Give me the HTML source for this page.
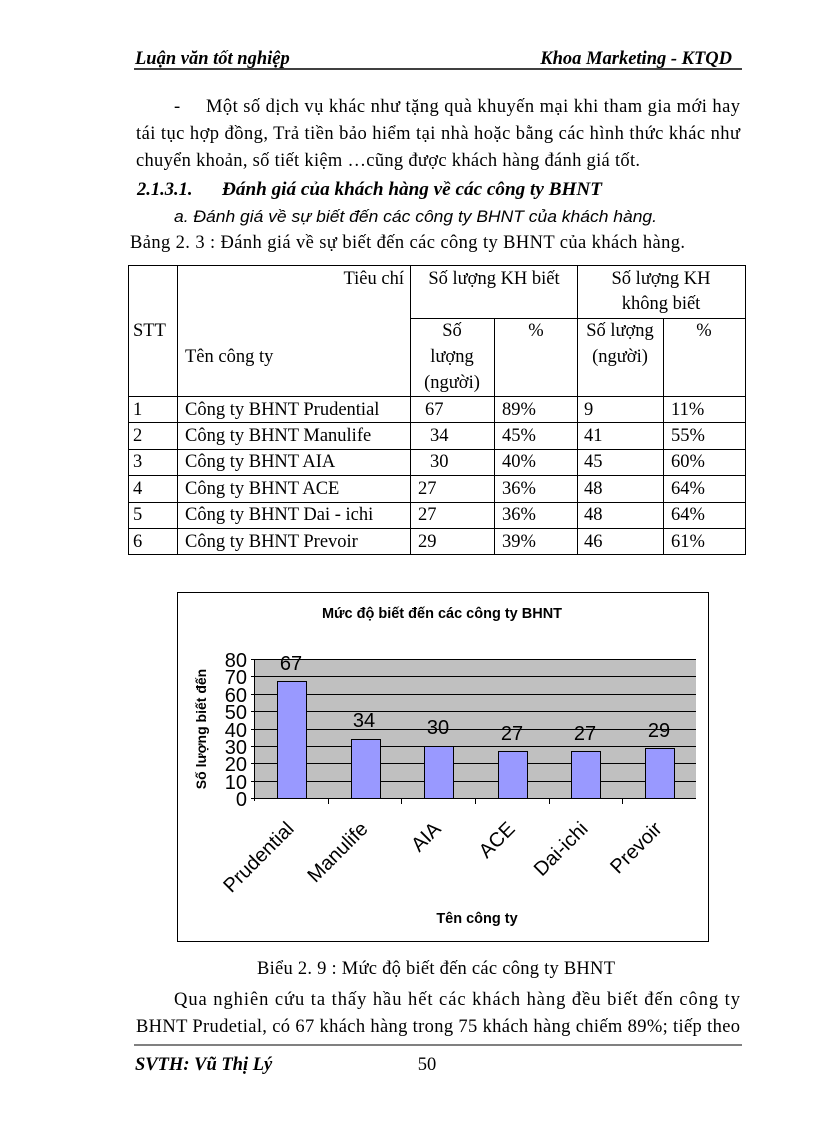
<!DOCTYPE html>
<html><head><meta charset="utf-8"><style>
html,body{margin:0;padding:0;background:#fff}
svg{display:block}
.t{font-family:"Liberation Serif",serif;font-size:18.5px;fill:#000}
.s{font-family:"Liberation Sans",sans-serif;fill:#000}
</style></head><body>
<svg width="816" height="1123" viewBox="0 0 816 1123" xmlns="http://www.w3.org/2000/svg">
<!-- header -->
<text class="t" x="135" y="64" font-size="15" font-style="italic" font-weight="bold">Luận văn tốt nghiệp</text>
<text class="t" x="732" y="64" font-size="15" font-style="italic" font-weight="bold" text-anchor="end">Khoa Marketing - KTQD</text>
<line x1="134" y1="69" x2="742" y2="69" stroke="#000" stroke-width="1.5"/>
<!-- paragraph -->
<text class="t" x="174" y="112">-</text>
<text class="t" x="206" y="112" textLength="534" lengthAdjust="spacing">Một số dịch vụ khác như tặng quà khuyến mại khi tham gia mới hay</text>
<text class="t" x="136" y="139" textLength="604" lengthAdjust="spacing">tái tục hợp đồng, Trả tiền bảo hiểm tại nhà hoặc bằng các hình thức khác như</text>
<text class="t" x="136" y="166" textLength="504" lengthAdjust="spacing">chuyển khoản, số tiết kiệm …cũng được khách hàng đánh giá tốt.</text>
<text class="t" x="137" y="195" font-weight="bold" font-style="italic">2.1.3.1.</text>
<text class="t" x="222" y="195" font-weight="bold" font-style="italic" textLength="380" lengthAdjust="spacingAndGlyphs">Đánh giá của khách hàng về các công ty BHNT</text>
<text class="s" x="174" y="222" font-size="17" font-style="italic" textLength="483" lengthAdjust="spacingAndGlyphs">a. Đánh giá về sự biết đến các công ty BHNT của khách hàng.</text>
<text class="t" x="130" y="248" textLength="555" lengthAdjust="spacing">Bảng 2. 3 : Đánh giá về sự biết đến các công ty BHNT của khách hàng.</text>
<!-- table -->
<g stroke="#000" stroke-width="1">
<rect x="128.5" y="265.5" width="617" height="289" fill="none"/>
<line x1="177.5" y1="265" x2="177.5" y2="555"/>
<line x1="410.5" y1="265" x2="410.5" y2="555"/>
<line x1="577.5" y1="265" x2="577.5" y2="555"/>
<line x1="494.5" y1="318" x2="494.5" y2="555"/>
<line x1="663.5" y1="318" x2="663.5" y2="555"/>
<line x1="410" y1="318.5" x2="746" y2="318.5"/>
<line x1="128" y1="396.5" x2="746" y2="396.5"/>
<line x1="128" y1="422.5" x2="746" y2="422.5"/>
<line x1="128" y1="449.5" x2="746" y2="449.5"/>
<line x1="128" y1="475.5" x2="746" y2="475.5"/>
<line x1="128" y1="502.5" x2="746" y2="502.5"/>
<line x1="128" y1="528.5" x2="746" y2="528.5"/>
</g>
<g font-size="19">
<text class="t" font-size="19" x="404" y="284" text-anchor="end">Tiêu chí</text>
<text class="t" font-size="19" x="494" y="284" text-anchor="middle">Số lượng KH biết</text>
<text class="t" font-size="19" x="661" y="284" text-anchor="middle">Số lượng KH</text>
<text class="t" font-size="19" x="661" y="309" text-anchor="middle">không biết</text>
<text class="t" font-size="19" x="133" y="336">STT</text>
<text class="t" font-size="19" x="185" y="362">Tên công ty</text>
<text class="t" font-size="19" x="452" y="336" text-anchor="middle">Số</text>
<text class="t" font-size="19" x="452" y="362" text-anchor="middle">lượng</text>
<text class="t" font-size="19" x="452" y="388" text-anchor="middle">(người)</text>
<text class="t" font-size="19" x="536" y="336" text-anchor="middle">%</text>
<text class="t" font-size="19" x="620" y="336" text-anchor="middle">Số lượng</text>
<text class="t" font-size="19" x="620" y="362" text-anchor="middle">(người)</text>
<text class="t" font-size="19" x="704" y="336" text-anchor="middle">%</text>
</g>
<g>
<text class="t" font-size="19" x="133" y="415">1</text><text class="t" font-size="19" x="185" y="415">Công ty BHNT Prudential</text><text class="t" font-size="19" x="425" y="415">67</text><text class="t" font-size="19" x="502" y="415">89%</text><text class="t" font-size="19" x="584" y="415">9</text><text class="t" font-size="19" x="671" y="415">11%</text>
<text class="t" font-size="19" x="133" y="441">2</text><text class="t" font-size="19" x="185" y="441">Công ty BHNT Manulife</text><text class="t" font-size="19" x="430" y="441">34</text><text class="t" font-size="19" x="502" y="441">45%</text><text class="t" font-size="19" x="584" y="441">41</text><text class="t" font-size="19" x="671" y="441">55%</text>
<text class="t" font-size="19" x="133" y="467">3</text><text class="t" font-size="19" x="185" y="467">Công ty BHNT AIA</text><text class="t" font-size="19" x="430" y="467">30</text><text class="t" font-size="19" x="502" y="467">40%</text><text class="t" font-size="19" x="584" y="467">45</text><text class="t" font-size="19" x="671" y="467">60%</text>
<text class="t" font-size="19" x="133" y="494">4</text><text class="t" font-size="19" x="185" y="494">Công ty BHNT ACE</text><text class="t" font-size="19" x="418" y="494">27</text><text class="t" font-size="19" x="502" y="494">36%</text><text class="t" font-size="19" x="584" y="494">48</text><text class="t" font-size="19" x="671" y="494">64%</text>
<text class="t" font-size="19" x="133" y="520">5</text><text class="t" font-size="19" x="185" y="520">Công ty BHNT Dai - ichi</text><text class="t" font-size="19" x="418" y="520">27</text><text class="t" font-size="19" x="502" y="520">36%</text><text class="t" font-size="19" x="584" y="520">48</text><text class="t" font-size="19" x="671" y="520">64%</text>
<text class="t" font-size="19" x="133" y="547">6</text><text class="t" font-size="19" x="185" y="547">Công ty BHNT Prevoir</text><text class="t" font-size="19" x="418" y="547">29</text><text class="t" font-size="19" x="502" y="547">39%</text><text class="t" font-size="19" x="584" y="547">46</text><text class="t" font-size="19" x="671" y="547">61%</text>
</g>
<!-- chart -->
<rect x="177.5" y="592.5" width="531" height="349" fill="#fff" stroke="#000"/>
<text class="s" x="442" y="618" font-size="14.5" font-weight="bold" text-anchor="middle">Mức độ biết đến các công ty BHNT</text>
<rect x="254" y="659" width="442" height="139" fill="#c0c0c0"/>
<g stroke="#000" stroke-width="1">
<line x1="254" y1="659.5" x2="696" y2="659.5"/>
<line x1="254" y1="676.5" x2="696" y2="676.5"/>
<line x1="254" y1="694.5" x2="696" y2="694.5"/>
<line x1="254" y1="711.5" x2="696" y2="711.5"/>
<line x1="254" y1="729.5" x2="696" y2="729.5"/>
<line x1="254" y1="746.5" x2="696" y2="746.5"/>
<line x1="254" y1="763.5" x2="696" y2="763.5"/>
<line x1="254" y1="781.5" x2="696" y2="781.5"/>
<line x1="254.5" y1="659" x2="254.5" y2="801"/>
<line x1="254" y1="798.5" x2="696" y2="798.5"/>
<line x1="328.5" y1="798" x2="328.5" y2="804"/>
<line x1="401.5" y1="798" x2="401.5" y2="804"/>
<line x1="475.5" y1="798" x2="475.5" y2="804"/>
<line x1="549.5" y1="798" x2="549.5" y2="804"/>
<line x1="622.5" y1="798" x2="622.5" y2="804"/>
<line x1="251" y1="659.5" x2="254" y2="659.5"/><line x1="251" y1="676.5" x2="254" y2="676.5"/><line x1="251" y1="694.5" x2="254" y2="694.5"/><line x1="251" y1="711.5" x2="254" y2="711.5"/><line x1="251" y1="729.5" x2="254" y2="729.5"/><line x1="251" y1="746.5" x2="254" y2="746.5"/><line x1="251" y1="763.5" x2="254" y2="763.5"/><line x1="251" y1="781.5" x2="254" y2="781.5"/><line x1="251" y1="798.5" x2="254" y2="798.5"/>
</g>
<g fill="#9999ff" stroke="#000" stroke-width="1">
<rect x="277.5" y="681.5" width="29" height="117"/>
<rect x="351.5" y="739.5" width="29" height="59"/>
<rect x="424.5" y="746.5" width="29" height="52"/>
<rect x="498.5" y="751.5" width="29" height="47"/>
<rect x="571.5" y="751.5" width="29" height="47"/>
<rect x="645.5" y="748.5" width="29" height="50"/>
</g>
<g class="s" font-size="20" text-anchor="middle">
<text x="291" y="670">67</text><text x="364" y="727">34</text><text x="438" y="734">30</text><text x="512" y="740">27</text><text x="585" y="740">27</text><text x="659" y="737">29</text>
</g>
<g class="s" font-size="20" text-anchor="end">
<text x="247" y="667">80</text><text x="247" y="684">70</text><text x="247" y="702">60</text><text x="247" y="719">50</text><text x="247" y="737">40</text><text x="247" y="754">30</text><text x="247" y="771">20</text><text x="247" y="789">10</text><text x="247" y="806">0</text>
</g>
<text class="s" transform="translate(206,729) rotate(-90)" font-size="14" font-weight="bold" text-anchor="middle">Số lượng biết đến</text>
<g class="s" font-size="20" text-anchor="end">
<text transform="translate(295,830) rotate(-45)">Prudential</text>
<text transform="translate(369,830) rotate(-45)">Manulife</text>
<text transform="translate(442,830) rotate(-45)">AIA</text>
<text transform="translate(516,830) rotate(-45)">ACE</text>
<text transform="translate(589,830) rotate(-45)">Dai-ichi</text>
<text transform="translate(663,830) rotate(-45)">Prevoir</text>
</g>
<text class="s" x="477" y="923" font-size="14.5" font-weight="bold" text-anchor="middle">Tên công ty</text>
<!-- bottom -->
<text class="t" x="257" y="974" textLength="358" lengthAdjust="spacing">Biểu 2. 9 : Mức độ biết đến các công ty BHNT</text>
<text class="t" x="174" y="1005" textLength="566" lengthAdjust="spacing">Qua nghiên cứu ta thấy hầu hết các khách hàng đều biết đến công ty</text>
<text class="t" x="136" y="1032" textLength="604" lengthAdjust="spacing">BHNT Prudetial, có 67 khách hàng trong 75 khách hàng chiếm 89%; tiếp theo</text>
<line x1="134" y1="1045" x2="742" y2="1045" stroke="#000" stroke-width="1"/>
<text class="t" x="135" y="1070" font-size="15" font-style="italic" font-weight="bold">SVTH: Vũ Thị Lý</text>
<text class="t" x="427" y="1070" font-size="15" text-anchor="middle">50</text>
</svg>
</body></html>
